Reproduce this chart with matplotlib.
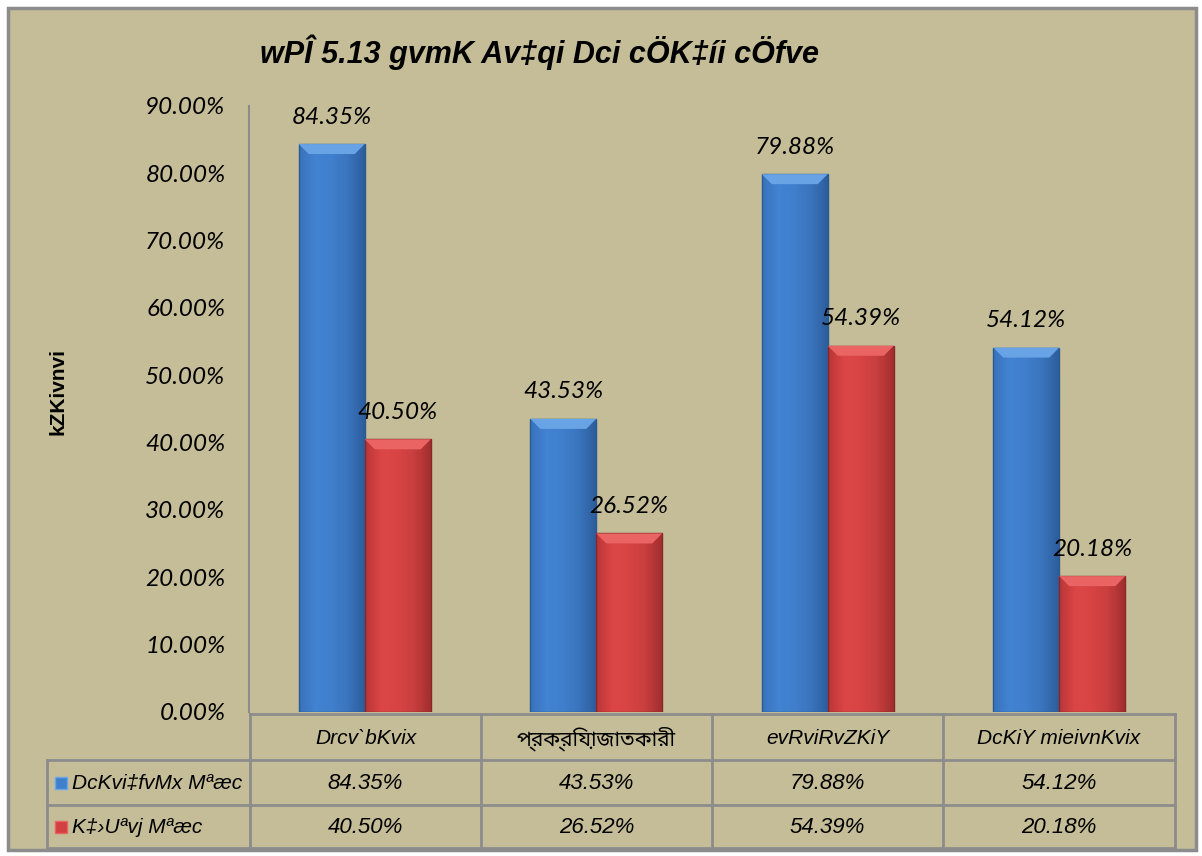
import numpy as np
import matplotlib
matplotlib.use('Agg')
import matplotlib.pyplot as plt
from matplotlib import font_manager
from matplotlib.colors import LinearSegmentedColormap
from matplotlib.patches import Polygon, Rectangle
from matplotlib.lines import Line2D

categories = ['Drcv`bKvix', 'প্রক্রিয়াজাতকারী', 'evRviRvZKiY', 'DcKiY mieivnKvix']
series_names = ['DcKvi‡fvMx Mªæc', 'K‡›Uªvj Mªæc']
beneficiary = [84.35, 43.53, 79.88, 54.12]
control = [40.50, 26.52, 54.39, 20.18]
yticks = [0, 10, 20, 30, 40, 50, 60, 70, 80, 90]
title = 'wPÎ 5.13 gvmK Av‡qi Dci cÖK‡íi cÖfve'
ylabel = 'kZKivnvi'

names = set(f.name for f in font_manager.fontManager.ttflist)
narrow = 'Liberation Sans Narrow' if 'Liberation Sans Narrow' in names else 'Liberation Sans'
beng = [n for n in names if 'Bengali' in n]
txt_font = [narrow] + beng + ['DejaVu Sans']
num_font = ['Lato', 'DejaVu Sans']

bg = '#c4bd97'
grid_c = '#8c8c8c'

fig = plt.figure(figsize=(12.02, 8.56), dpi=100, facecolor='white')
W, H = 1202, 856

def fx(px):
    return px / W

def fy(py):
    return 1 - py / H

# outer frame
fig.patches.append(Rectangle((fx(8), fy(850)), fx(1188), 842 / H, transform=fig.transFigure,
                             facecolor=bg, edgecolor=grid_c, linewidth=2.5, zorder=-5))

ax = fig.add_axes([fx(249), fy(712), fx(926), (712 - 106) / H])
ax.set_zorder(2)
ax.set_facecolor('none')
for s in ['top', 'right', 'bottom']:
    ax.spines[s].set_visible(False)
ax.spines['left'].set_color(grid_c)
ax.spines['left'].set_linewidth(1.5)

x = np.arange(len(categories))
bw = 0.285
blue_cm = LinearSegmentedColormap.from_list('b', ['#3a72bb', '#4283d2', '#3f7fcc', '#3a74bd', '#2d5e9c'])
red_cm = LinearSegmentedColormap.from_list('r', ['#bb3636', '#dc4646', '#d84444', '#c83e3e', '#a22f2f'])

ax.set_xlim(-0.5, len(categories) - 0.5)
ax.set_ylim(0, 90)

px_x = (len(categories)) / 926.0
px_y = 90 / 606.0

def draw_bars(xs, vals, cmap, cap, edge):
    bars = ax.bar(xs, vals, bw, color='none', edgecolor=edge, linewidth=1.0, zorder=3)
    grad = np.linspace(0, 1, 64).reshape(1, -1)
    for b in bars:
        x0, y0 = b.get_x(), b.get_y()
        x1, y1 = x0 + b.get_width(), y0 + b.get_height()
        im = ax.imshow(grad, extent=[x0, x1, y0, y1], aspect='auto', cmap=cmap, zorder=2)
        im.set_clip_path(b)
        d = 10 * px_x
        h = 10 * px_y
        ax.add_patch(Polygon([(x0, y1), (x1, y1), (x1 - d, y1 - h), (x0 + d, y1 - h)],
                             closed=True, facecolor=cap, edgecolor='none', zorder=4))
    return bars

draw_bars(x - bw / 2, beneficiary, blue_cm, '#68a3e6', '#2a5a94')
draw_bars(x + bw / 2, control, red_cm, '#ea6464', '#8a2828')

for xi, v in zip(x - bw / 2, beneficiary):
    ax.text(xi, v + 27 * px_y, '%.2f%%' % v, ha='center', va='center', fontsize=17.5,
            style='italic', family=num_font)
for xi, v in zip(x + bw / 2, control):
    ax.text(xi, v + 27 * px_y, '%.2f%%' % v, ha='center', va='center', fontsize=17.5,
            style='italic', family=num_font)

ax.set_xticks([])
ax.set_yticks(yticks)
ax.set_yticklabels(['%.2f%%' % t for t in yticks], fontsize=17.5, style='italic', family=num_font)
ax.tick_params(axis='y', length=0, pad=17)
ax.set_ylim(0, 90)
ax.set_xlim(-0.5, len(categories) - 0.5)

fig.text(fx(58), fy(392), ylabel, rotation=90, ha='center', va='center', fontsize=15,
         fontweight='bold', family=txt_font)
fig.text(fx(540), fy(52), title, ha='center', va='center', fontsize=22,
         fontweight='bold', style='italic', family=txt_font)

# data table
col_edges = [250, 481, 712, 943, 1175]
row_edges = [714, 760, 805, 848]
lw = 2

def hline(y, x0, x1):
    fig.lines.append(Line2D([fx(x0), fx(x1)], [fy(y), fy(y)], transform=fig.transFigure,
                            color=grid_c, linewidth=lw))

def vline(xp, y0, y1):
    fig.lines.append(Line2D([fx(xp), fx(xp)], [fy(y0), fy(y1)], transform=fig.transFigure,
                            color=grid_c, linewidth=lw))

hline(row_edges[0], col_edges[0], col_edges[-1])
for y in row_edges[1:]:
    hline(y, 47, col_edges[-1])
for xp in col_edges:
    vline(xp, row_edges[0], row_edges[-1])
vline(47, row_edges[1], row_edges[-1])

for i, c in enumerate(categories):
    cx = (col_edges[i] + col_edges[i + 1]) / 2
    fig.text(fx(cx), fy((row_edges[0] + row_edges[1]) / 2 + 2), c, ha='center', va='center',
             fontsize=15, style='italic', family=txt_font)

rows = [beneficiary, control]
swatch = [('#3f7fcc', '#6aa6e8'), ('#d04040', '#ea6262')]
for r, vals in enumerate(rows):
    cy = (row_edges[r + 1] + row_edges[r + 2]) / 2
    fig.patches.append(Rectangle((fx(55), fy(cy + 6)), fx(12), 12 / H, transform=fig.transFigure,
                                 facecolor=swatch[r][0], edgecolor=swatch[r][1], linewidth=1))
    fig.text(fx(72), fy(cy + 1), series_names[r], ha='left', va='center', fontsize=15,
             style='italic', family=txt_font)
    for i, v in enumerate(vals):
        cx = (col_edges[i] + col_edges[i + 1]) / 2
        fig.text(fx(cx), fy(cy + 1), '%.2f%%' % v, ha='center', va='center', fontsize=16,
                 style='italic', family=txt_font)

fig.savefig('out.png', dpi=100, facecolor='white')
